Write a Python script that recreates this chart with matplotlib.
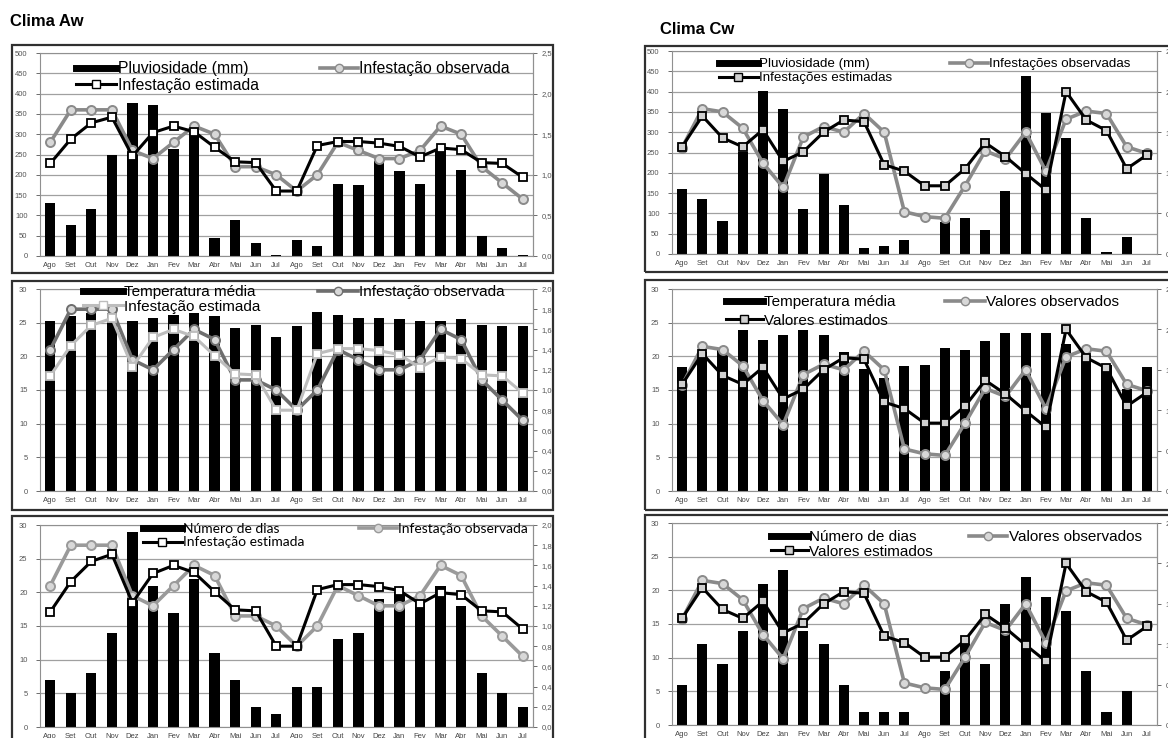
import matplotlib.pyplot as plt
from matplotlib.lines import Line2D
from matplotlib.patches import Rectangle
import numpy as np

plt.rcParams['font.family'] = ['Liberation Sans', 'DejaVu Sans']

months = ['Ago', 'Set', 'Out', 'Nov', 'Dez', 'Jan', 'Fev', 'Mar', 'Abr', 'Mai', 'Jun', 'Jul'] * 2

# Clima Aw
aw_chuva = [131, 77, 116, 250, 377, 371, 263, 311, 44, 88, 31, 2,
            39, 24, 178, 174, 235, 210, 178, 262, 213, 49, 20, 2]
aw_temp = [25.2, 26.0, 26.5, 26.4, 25.3, 25.7, 26.2, 26.4, 26.0, 24.2, 24.7, 22.9,
           24.5, 26.6, 26.1, 25.7, 25.7, 25.5, 25.3, 25.3, 25.5, 24.7, 24.5, 24.5]
aw_dias = [7, 5, 8, 14, 29, 21, 17, 22, 11, 7, 3, 2,
           6, 6, 13, 14, 19, 20, 19, 21, 18, 8, 5, 3]
aw_obs = [1.4, 1.8, 1.8, 1.8, 1.3, 1.2, 1.4, 1.6, 1.5, 1.1, 1.1, 1.0,
          0.8, 1.0, 1.4, 1.3, 1.2, 1.2, 1.3, 1.6, 1.5, 1.1, 0.9, 0.7]
aw_est = [1.14, 1.44, 1.64, 1.71, 1.23, 1.52, 1.60, 1.53, 1.34, 1.16, 1.15, 0.80,
          0.80, 1.36, 1.41, 1.41, 1.39, 1.35, 1.22, 1.33, 1.31, 1.15, 1.14, 0.97]

# Clima Cw
cw_chuva = [160, 135, 82, 252, 402, 357, 110, 197, 121, 14, 20, 35,
            0, 80, 89, 60, 154, 439, 347, 285, 89, 6, 43, 0]
cw_temp = [18.4, 20.7, 21.0, 23.9, 22.4, 23.1, 23.9, 23.1, 20.7, 18.1, 16.8, 18.6,
           18.7, 21.2, 20.9, 22.3, 23.5, 23.5, 23.5, 21.8, 20.2, 18.7, 15.2, 18.4]
cw_dias = [6, 12, 9, 14, 21, 23, 14, 12, 6, 2, 2, 2,
           0, 8, 12, 9, 18, 22, 19, 17, 8, 2, 5, 0]
cw_obs = [1.31, 1.79, 1.75, 1.55, 1.12, 0.82, 1.44, 1.57, 1.50, 1.73, 1.50, 0.52,
          0.46, 0.44, 0.84, 1.27, 1.17, 1.50, 1.02, 1.66, 1.76, 1.73, 1.32, 1.24]
cw_est = [1.32, 1.70, 1.43, 1.32, 1.53, 1.14, 1.26, 1.50, 1.65, 1.63, 1.10, 1.02,
          0.84, 0.84, 1.05, 1.37, 1.20, 0.99, 0.79, 2.00, 1.65, 1.52, 1.05, 1.22]

W, H = 1168, 738
fig = plt.figure(figsize=(W / 100, H / 100), dpi=100)


def px_rect(x0, y0, x1, y1):
    return [x0 / W, 1 - y1 / H, (x1 - x0) / W, (y1 - y0) / H]


def fmt(v):
    return f'{v:.1f}'.replace('.', ',')


def panel(box, frame, bars, ymax, ystep, obs, est, rmax, rstep,
          names, obs_color, est_color, est_face, fs, leg1, leg2, hl, ls, fam=None):
    fig.patches.append(Rectangle((frame[0] / W, 1 - frame[3] / H),
                                 (frame[2] - frame[0]) / W, (frame[3] - frame[1]) / H,
                                 transform=fig.transFigure, fill=False,
                                 edgecolor='#303030', lw=1.6))
    ax = fig.add_axes(px_rect(*box))
    x = np.arange(len(months))
    ax.bar(x, bars, width=0.5, color='black', zorder=2)
    ax.set_xlim(-0.5, len(months) - 0.5)
    ax.set_ylim(0, ymax)
    ax.set_yticks(np.arange(0, ymax + 0.1, ystep))
    ax.set_xticks(x)
    ax.set_xticklabels(months)
    ax.yaxis.grid(True, color='#a0a0a0', lw=0.9)
    ax.set_axisbelow(True)
    ax.tick_params(axis='x', length=0, pad=4, labelsize=5.5, colors='#444444')
    ax.tick_params(axis='y', length=3, width=0.6, pad=6, labelsize=5.5,
                   colors='#555555')
    for s in ax.spines.values():
        s.set_color('#909090')
        s.set_linewidth(0.8)

    ax2 = ax.twinx()
    ax2.set_ylim(0, rmax)
    rt = np.arange(0, rmax + 0.01, rstep)
    ax2.set_yticks(rt)
    ax2.set_yticklabels([fmt(v) for v in rt])
    ax2.tick_params(axis='y', length=3, width=0.6, pad=3, labelsize=5.5,
                    colors='#555555')
    ax2.spines['right'].set_color('#909090')
    for s in ['top', 'left', 'bottom']:
        ax2.spines[s].set_visible(False)
    ax2.plot(x, obs, color=obs_color, lw=2.6, marker='o', ms=6.5,
             mfc='#d8d8d8', mec=obs_color, mew=1.4, zorder=3)
    ax2.plot(x, est, color=est_color, lw=2.2, marker='s', ms=6,
             mfc=est_face, mec=est_color, mew=1.3, zorder=4)

    h_bar = Line2D([], [], color='black', lw=5)
    h_obs = Line2D([], [], color=obs_color, lw=2.6, marker='o', ms=6,
                   mfc='#d8d8d8', mec=obs_color)
    h_est = Line2D([], [], color=est_color, lw=2.2, marker='s', ms=6,
                   mfc=est_face, mec=est_color)
    prop = {'size': fs}
    if fam:
        prop['family'] = fam
    l1 = ax2.legend([h_bar, h_est], [names[0], names[2]], loc='upper left',
                    bbox_to_anchor=(leg1[0] / W, 1 - leg1[1] / H),
                    bbox_transform=fig.transFigure, frameon=False, prop=prop,
                    borderpad=0, borderaxespad=0, handlelength=hl[0],
                    handletextpad=0.1, labelspacing=ls)
    ax2.add_artist(l1)
    ax2.legend([h_obs], [names[1]], loc='upper left',
               bbox_to_anchor=(leg2[0] / W, 1 - leg2[1] / H),
               bbox_transform=fig.transFigure, frameon=False, prop=prop,
               borderpad=0, borderaxespad=0, handlelength=hl[1],
               handletextpad=0.1)


fig.text(10 / W, 1 - 22 / H, 'Clima Aw', fontsize=12, fontweight='bold',
         va='center', ha='left')
fig.text(660 / W, 1 - 30 / H, 'Clima Cw', fontsize=12, fontweight='bold',
         va='center', ha='left')

panel((40, 53, 533, 256), (12, 45, 553, 273), aw_chuva, 500, 50, aw_obs, aw_est, 2.5, 0.5,
      ['Pluviosidade (mm)', 'Infestação observada', 'Infestação estimada'],
      '#8a8a8a', 'black', 'white', 11.3, (76, 61), (320, 61), (2.55, 2.4), 0.1)
panel((40, 289, 533, 491), (12, 281, 553, 510), aw_temp, 30, 5, aw_obs, aw_est, 2.0, 0.2,
      ['Temperatura média', 'Infestação observada', 'Infestação estimada'],
      '#6e6e6e', '#bdbdbd', 'white', 11, (83, 285), (318, 285), (2.6, 2.6), 0.05)
panel((40, 525, 533, 727), (12, 516, 553, 745), aw_dias, 30, 5, aw_obs, aw_est, 2.0, 0.2,
      ['Número de dias', 'Infestação observada', 'Infestação estimada'],
      '#9a9a9a', 'black', 'white', 10, (143, 523), (359, 523), (2.8, 2.7), 0.1, fam='Lato')

panel((672, 51, 1157, 254), (645, 46, 1180, 272), cw_chuva, 500, 50, cw_obs, cw_est, 2.5, 0.5,
      ['Pluviosidade (mm)', 'Infestações observadas', 'Infestações estimadas'],
      '#8a8a8a', 'black', '#d0d0d0', 9.6, (719, 58), (950, 58), (2.9, 2.85), 0.13)
panel((672, 289, 1157, 491), (645, 280, 1180, 510), cw_temp, 30, 5, cw_obs, cw_est, 2.5, 0.5,
      ['Temperatura média', 'Valores observados', 'Valores estimados'],
      '#8a8a8a', 'black', '#d0d0d0', 11, (726, 295), (945, 295), (2.4, 2.6), 0.3)
panel((672, 523, 1157, 725), (645, 515, 1180, 745), cw_dias, 30, 5, cw_obs, cw_est, 2.5, 0.5,
      ['Número de dias', 'Valores observados', 'Valores estimados'],
      '#8a8a8a', 'black', '#d0d0d0', 11, (771, 530), (969, 530), (2.4, 2.5), 0.05)

fig.savefig('out.png', dpi=100)
